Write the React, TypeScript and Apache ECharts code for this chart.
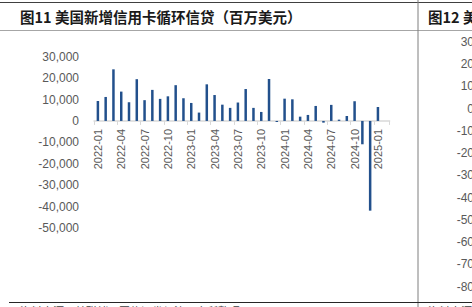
import React, { useEffect, useRef } from "react";
import * as echarts from "echarts";

const categories = [
  "2022-01", "2022-02", "2022-03", "2022-04", "2022-05", "2022-06",
  "2022-07", "2022-08", "2022-09", "2022-10", "2022-11", "2022-12",
  "2023-01", "2023-02", "2023-03", "2023-04", "2023-05", "2023-06",
  "2023-07", "2023-08", "2023-09", "2023-10", "2023-11", "2023-12",
  "2024-01", "2024-02", "2024-03", "2024-04", "2024-05", "2024-06",
  "2024-07", "2024-08", "2024-09", "2024-10", "2024-11", "2024-12",
  "2025-01", "2025-02",
];

const revolvingCredit: (number | null)[] = [
  9300, 11200, 24100, 13700, 8700, 19500,
  9700, 14500, 10300, 11500, 16700, 10600,
  8400, 3900, 17100, 12100, 7600, 6100,
  8600, 14900, 6100, 4200, 19600, -500,
  10400, 10100, 2000, 2800, 7000, -800,
  7500, 600, 2300, 9200, -10900, -41900,
  6500, null,
];

const leftTitle = "图11 美国新增信用卡循环信贷（百万美元）";
const rightTitle = "图12 美国消费信贷";
const sourceText = "资料来源：美联储，国信证券经济研究所整理";

const leftYMin = -50000;
const leftYMax = 30000;
const leftYInterval = 10000;
const rightYMin = -80;
const rightYMax = 30;
const rightYInterval = 10;

export default function App() {
  const ref = useRef<HTMLDivElement>(null);
  useEffect(() => {
    if (!ref.current) return;
    const chart = echarts.init(ref.current, undefined, { renderer: "svg" });
    const labelColor = "#595959";
    const gridTop = 56.7;
    const gridHeight = 171.3;
    const zeroY = gridTop + (gridHeight * leftYMax) / (leftYMax - leftYMin);
    const xAxisOffset = -(gridTop + gridHeight - zeroY);
    chart.setOption({
      animation: false,
      grid: [
        { left: 94, top: gridTop, width: 295.6, height: gridHeight },
        { left: 480, top: 42, width: 100, height: 244.7 },
      ],
      xAxis: [
        {
          type: "category",
          gridIndex: 0,
          data: categories,
          boundaryGap: true,
          offset: xAxisOffset,
          axisLine: { show: true, onZero: false, lineStyle: { color: "#d9d9d9", width: 1.5 } },
          axisTick: { show: true, interval: 2, length: 4, lineStyle: { color: "#d9d9d9" } },
          axisLabel: {
            interval: 2,
            rotate: 90,
            margin: 8,
            color: labelColor,
            fontSize: 11,
            fontFamily: "Liberation Sans",
          },
        },
        { type: "category", gridIndex: 1, show: false, data: ["a"] },
      ],
      yAxis: [
        {
          type: "value",
          gridIndex: 0,
          min: leftYMin,
          max: leftYMax,
          interval: leftYInterval,
          axisLine: { show: false },
          axisTick: { show: false },
          splitLine: { show: false },
          axisLabel: {
            margin: 15,
            color: labelColor,
            fontSize: 12,
            fontFamily: "Liberation Sans",
            formatter: (v: number) => v.toLocaleString("en-US"),
          },
        },
        {
          type: "value",
          gridIndex: 1,
          min: rightYMin,
          max: rightYMax,
          interval: rightYInterval,
          axisLine: { show: false },
          axisTick: { show: false },
          splitLine: { show: false },
          axisLabel: {
            margin: 6,
            color: labelColor,
            fontSize: 12,
            fontFamily: "Liberation Sans",
          },
        },
      ],
      series: [
        {
          type: "bar",
          xAxisIndex: 0,
          yAxisIndex: 0,
          data: revolvingCredit,
          barWidth: 2.5,
          itemStyle: { color: "#22508c" },
        },
      ],
      graphic: [
        { type: "line", shape: { x1: 0, y1: 2.5, x2: 472, y2: 2.5 }, style: { stroke: "#404040", lineWidth: 1 } },
        { type: "line", shape: { x1: 0, y1: 30.5, x2: 472, y2: 30.5 }, style: { stroke: "#a6a6a6", lineWidth: 1 } },
        { type: "line", shape: { x1: 418, y1: 0, x2: 418, y2: 307 }, style: { stroke: "#7f7f7f", lineWidth: 1 } },
        { type: "line", shape: { x1: 9, y1: 302.5, x2: 472, y2: 302.5 }, style: { stroke: "#262626", lineWidth: 1 } },
        {
          type: "text",
          x: 20,
          y: 16,
          style: {
            text: leftTitle,
            fill: "#1a1a1a",
            font: "bold 14.5px 'Noto Sans CJK SC'",
            verticalAlign: "middle",
          },
        },
        {
          type: "text",
          x: 428,
          y: 16,
          style: {
            text: rightTitle,
            fill: "#1a1a1a",
            font: "bold 14.5px 'Noto Sans CJK SC'",
            verticalAlign: "middle",
          },
        },
        {
          type: "text",
          x: 20,
          y: 305,
          style: { text: sourceText, fill: "#404040", font: "11px 'Noto Sans CJK SC'", verticalAlign: "top" },
        },
        {
          type: "text",
          x: 428,
          y: 305,
          style: { text: sourceText, fill: "#404040", font: "11px 'Noto Sans CJK SC'", verticalAlign: "top" },
        },
      ],
    });
    return () => chart.dispose();
  }, []);
  return (
    <div
      ref={ref}
      style={{ position: "fixed", left: 0, top: 0, width: 472, height: 307, background: "#fff" }}
    />
  );
}
